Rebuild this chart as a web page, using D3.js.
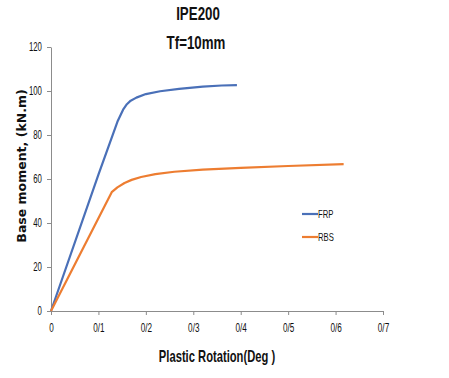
<!DOCTYPE html>
<html>
<head>
<meta charset="utf-8">
<script src="https://cdn.jsdelivr.net/npm/d3@7"></script>
<style>
  body { margin: 0; background: #fff; }
  svg text { font-family: "Liberation Sans", Arial, sans-serif; fill: #111; }
</style>
</head>
<body>
<div id="chart"></div>
<script>
// Series data (rotation in deg, moment in kN.m)
var frpX = [0, 0.10, 0.14, 0.152, 0.16, 0.168, 0.18, 0.20, 0.23, 0.27, 0.32, 0.36, 0.392];
var frpY = [0, 62, 86, 91.5, 94, 95.6, 97, 98.6, 99.9, 101, 102, 102.5, 102.7];
var rbsX = [0, 0.128, 0.14, 0.155, 0.17, 0.19, 0.22, 0.26, 0.32, 0.40, 0.50, 0.617];
var rbsY = [0, 54, 56.2, 58.2, 59.6, 60.9, 62.2, 63.3, 64.3, 65.1, 65.9, 66.8];
var xTicks = [0, 0.1, 0.2, 0.3, 0.4, 0.5, 0.6, 0.7];
var yTicks = [0, 20, 40, 60, 80, 100, 120];
var seriesNames = ["FRP", "RBS"];
var seriesColors = ["#4a70b8", "#ed7d31"];

var width = 449, height = 378;
var margin = { top: 47, left: 51, right: 66, bottom: 67 };
var plotW = width - margin.left - margin.right,
    plotH = height - margin.top - margin.bottom;

var svg = d3.select("#chart").append("svg")
    .attr("width", width)
    .attr("height", height);

var g = svg.append("g")
    .attr("transform", "translate(" + margin.left + "," + margin.top + ")");

var x = d3.scaleLinear().domain([0, 0.7]).range([0, plotW]);
var y = d3.scaleLinear().domain([0, 120]).range([plotH, 0]);

// x axis, labels written with a slash like the original
var xAxis = g.append("g")
    .attr("transform", "translate(0," + plotH + ")")
    .call(d3.axisBottom(x).tickValues(xTicks).tickSize(4)
        .tickFormat(function(d) { return d === 0 ? "0" : "0/" + Math.round(d * 10); }));
xAxis.select(".domain").attr("stroke", "#8c8c8c");
xAxis.selectAll(".tick line").attr("stroke", "#8c8c8c");
xAxis.selectAll(".tick text")
    .attr("y", 12).attr("dy", "0.71em")
    .attr("transform", "scale(0.68,1)")
    .style("font-size", "12px");

// y axis
var yAxis = g.append("g")
    .call(d3.axisLeft(y).tickValues(yTicks).tickSize(4).tickSizeOuter(0));
yAxis.select(".domain").attr("stroke", "#8c8c8c");
yAxis.selectAll(".tick line").attr("stroke", "#8c8c8c");
yAxis.selectAll(".tick text")
    .attr("x", -14)
    .attr("transform", "scale(0.65,1)")
    .style("font-size", "12px");

// lines
var line = d3.line()
    .x(function(d) { return x(d[0]); })
    .y(function(d) { return y(d[1]); });

var series = [d3.zip(frpX, frpY), d3.zip(rbsX, rbsY)];
series.forEach(function(s, i) {
    g.append("path")
        .datum(s)
        .attr("fill", "none")
        .attr("stroke", seriesColors[i])
        .attr("stroke-width", 2.2)
        .attr("stroke-linejoin", "round")
        .attr("d", line);
});

// legend
var legend = svg.append("g").attr("transform", "translate(302,214)");
seriesNames.forEach(function(name, i) {
    var row = legend.append("g").attr("transform", "translate(0," + (i * 23) + ")");
    row.append("line")
        .attr("x1", 0).attr("x2", 16)
        .attr("stroke", seriesColors[i])
        .attr("stroke-width", 2.2);
    row.append("text")
        .attr("x", 16 / 0.7).attr("dy", "0.36em")
        .attr("transform", "scale(0.7,1)")
        .style("font-size", "11px")
        .text(name);
});

// titles
svg.append("text")
    .attr("transform", "translate(198,20) scale(0.74,1)")
    .attr("text-anchor", "middle")
    .style("font-size", "18px").style("font-weight", "bold")
    .text("IPE200");
svg.append("text")
    .attr("transform", "translate(196,49) scale(0.74,1)")
    .attr("text-anchor", "middle")
    .style("font-size", "18px").style("font-weight", "bold")
    .text("Tf=10mm");

// axis titles
svg.append("text")
    .attr("transform", "translate(217,362) scale(0.7,1)")
    .attr("text-anchor", "middle")
    .style("font-size", "16px").style("font-weight", "bold")
    .text("Plastic Rotation(Deg )");
svg.append("text")
    .attr("transform", "translate(26,166) rotate(-90)")
    .attr("text-anchor", "middle")
    .style("font-family", "'DejaVu Sans', Verdana, sans-serif")
    .style("font-size", "12.5px").style("font-weight", "bold")
    .text("Base moment, (kN.m)");
</script>
</body>
</html>
